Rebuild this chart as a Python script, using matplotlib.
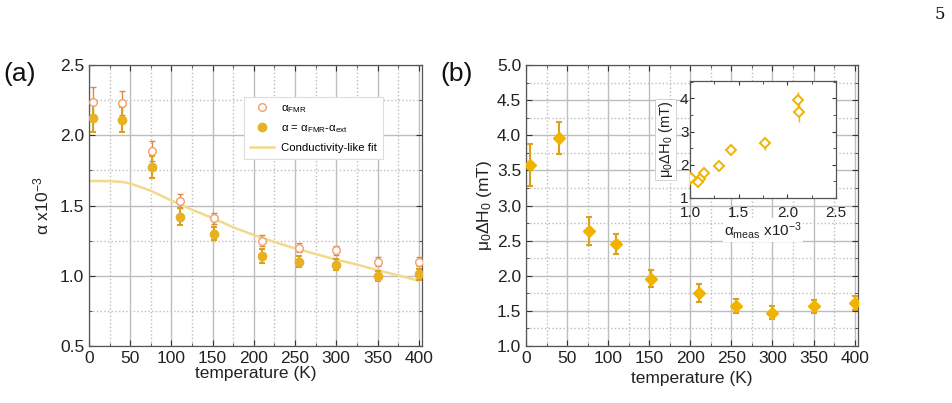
import matplotlib
matplotlib.use("Agg")
import matplotlib.pyplot as plt
from matplotlib.ticker import MultipleLocator
from matplotlib.lines import Line2D
import numpy as np

plt.rcParams['font.family'] = ['Liberation Sans', 'DejaVu Sans']
plt.rcParams['mathtext.fontset'] = 'custom'
plt.rcParams['mathtext.rm'] = 'Liberation Sans'
plt.rcParams['mathtext.it'] = 'Liberation Sans'
plt.rcParams['mathtext.bf'] = 'Liberation Sans:bold'

# ---- data ----
temperature = [5, 40, 77, 110, 152, 210, 255, 300, 350, 400]
alpha_fmr = [2.24, 2.23, 1.89, 1.53, 1.41, 1.25, 1.20, 1.18, 1.10, 1.10]
alpha_fmr_err = [0.10, 0.085, 0.07, 0.05, 0.04, 0.04, 0.03, 0.03, 0.03, 0.03]
alpha_corr = [2.12, 2.11, 1.775, 1.42, 1.30, 1.14, 1.10, 1.08, 1.00, 1.01]
alpha_corr_err = [0.10, 0.09, 0.08, 0.06, 0.045, 0.05, 0.04, 0.04, 0.035, 0.04]
fit_T = [0, 25, 40, 50, 75, 100, 125, 150, 175, 200, 225, 250, 275, 300, 325, 350, 375, 400]
fit_alpha = [1.675, 1.673, 1.668, 1.657, 1.605, 1.535, 1.47, 1.41, 1.345, 1.29, 1.24, 1.195, 1.155, 1.115, 1.08, 1.04, 1.003, 0.965]
dH0 = [3.58, 3.96, 2.64, 2.45, 1.955, 1.755, 1.57, 1.475, 1.565, 1.61]
dH0_err = [0.30, 0.23, 0.20, 0.14, 0.12, 0.13, 0.10, 0.09, 0.09, 0.10]

c_open = '#f2a066'
c_open_err = '#d98a4a'
c_fill = '#e8b024'
c_fill_err = '#d9a21a'
c_fit = '#f3d98c'
c_dia = '#f0b400'

fig = plt.figure(figsize=(9.52, 4.03), dpi=100)

def style(ax):
    ax.tick_params(which='both', direction='in', top=True, right=True, labelsize=12.5, colors='#333333', labelcolor='#222222')
    ax.tick_params(which='major', length=4)
    ax.tick_params(which='minor', length=2.5)
    ax.grid(which='major', color='#bdbdbd', lw=1.0, ls='-')
    ax.grid(which='minor', color='#bdbdbd', lw=1.0, ls=':')
    ax.set_axisbelow(True)
    for s in ax.spines.values():
        s.set_color('#555555')
        s.set_linewidth(0.9)

# ---- panel (a) ----
axa = fig.add_axes([0.0935, 0.1414, 0.3498, 0.6973])
axa.errorbar(temperature, alpha_fmr, yerr=alpha_fmr_err, fmt='o', ms=5.5, mfc='white', mec=c_open,
             mew=1.0, ecolor=c_open_err, elinewidth=1.0, capsize=2.5, capthick=1.0, zorder=3)
axa.errorbar(temperature, alpha_corr, yerr=alpha_corr_err, fmt='o', ms=6, mfc=c_fill, mec=c_fill,
             ecolor=c_fill_err, elinewidth=1.5, capsize=2.5, capthick=1.5, zorder=3)
axa.plot(fit_T, fit_alpha, color=c_fit, lw=1.8, zorder=2)
axa.set_xlim(0, 404)
axa.set_ylim(0.5, 2.5)
axa.xaxis.set_major_locator(MultipleLocator(50))
axa.xaxis.set_minor_locator(MultipleLocator(25))
axa.yaxis.set_major_locator(MultipleLocator(0.5))
axa.yaxis.set_minor_locator(MultipleLocator(0.25))
style(axa)
axa.set_xlabel('temperature (K)', fontsize=12.5, labelpad=0, color='#222222')
axa.set_ylabel(r'α x10$^{-3}$', fontsize=12.5, labelpad=6, color='#222222')
handles = [
    Line2D([], [], ls='none', marker='o', ms=5.5, mfc='white', mec=c_open, mew=1.0),
    Line2D([], [], ls='none', marker='o', ms=6, mfc=c_fill, mec=c_fill),
    Line2D([], [], color=c_fit, lw=1.8),
]
labels = [r'α$_{\rm FMR}$', r'α = α$_{\rm FMR}$-α$_{\rm ext}$', 'Conductivity-like fit']
leg = axa.legend(handles, labels, loc='upper right', bbox_to_anchor=(0.883, 0.886), fontsize=8.2, frameon=True,
                 fancybox=False, edgecolor='#dddddd', framealpha=1, handlelength=2.1,
                 borderpad=0.55, labelspacing=0.7, handletextpad=0.6, borderaxespad=0)
leg.get_frame().set_linewidth(0.8)

# ---- panel (b) ----
axb = fig.add_axes([0.5525, 0.1414, 0.3487, 0.6973])
axb.errorbar(temperature, dH0, yerr=dH0_err, fmt='D', ms=6, mfc=c_dia, mec=c_dia,
             ecolor=c_fill_err, elinewidth=1.5, capsize=2.5, capthick=1.5, zorder=3)
axb.set_xlim(0, 404)
axb.set_ylim(1.0, 5.0)
axb.xaxis.set_major_locator(MultipleLocator(50))
axb.xaxis.set_minor_locator(MultipleLocator(25))
axb.yaxis.set_major_locator(MultipleLocator(0.5))
axb.yaxis.set_minor_locator(MultipleLocator(0.25))
style(axb)
axb.set_xlabel('temperature (K)', fontsize=12.5, labelpad=4, color='#222222')
axb.set_ylabel(r'μ$_0$ΔH$_0$ (mT)', fontsize=12.5, labelpad=2, color='#222222')

# ---- inset ----
axi = fig.add_axes([0.7248, 0.5087, 0.1534, 0.2903])
axi.errorbar(alpha_corr, dH0, yerr=dH0_err, fmt='D', ms=5.5, mfc='white', mec=c_dia, mew=1.4,
             ecolor=c_dia, elinewidth=1.0, capsize=0, zorder=3)
axi.set_xlim(1.0, 2.5)
axi.set_ylim(1.0, 4.52)
axi.xaxis.set_major_locator(MultipleLocator(0.5))
axi.xaxis.set_minor_locator(MultipleLocator(0.25))
axi.yaxis.set_major_locator(MultipleLocator(1))
axi.yaxis.set_minor_locator(MultipleLocator(0.5))
axi.tick_params(which='both', direction='in', top=True, right=True, labelsize=11, colors='#333333', labelcolor='#222222')
axi.tick_params(which='major', length=3)
axi.tick_params(which='minor', length=2)
axi.tick_params(axis='y', pad=1)
axi.tick_params(axis='x', pad=5.5)
for s in axi.spines.values():
    s.set_color('#555555')
    s.set_linewidth(0.9)
axi.set_xlabel(r'α$_{\rm meas}$ x10$^{-3}$', fontsize=11, labelpad=0, color='#222222',
               bbox=dict(facecolor='white', edgecolor='none', pad=1))
axi.set_ylabel(r'μ$_0$ΔH$_0$ (mT)', fontsize=10.5, labelpad=4, color='#222222',
               bbox=dict(facecolor='white', edgecolor='#cccccc', lw=0.6, pad=1))

# ---- labels ----
fig.text(0.004, 0.80, '(a)', fontsize=19, color='#111111')
fig.text(0.463, 0.80, '(b)', fontsize=19, color='#111111')
fig.text(0.987, 0.965, '5', fontsize=12, family='DejaVu Serif', color='#111111', ha='center', va='center')

fig.savefig('out.png', dpi=100)
